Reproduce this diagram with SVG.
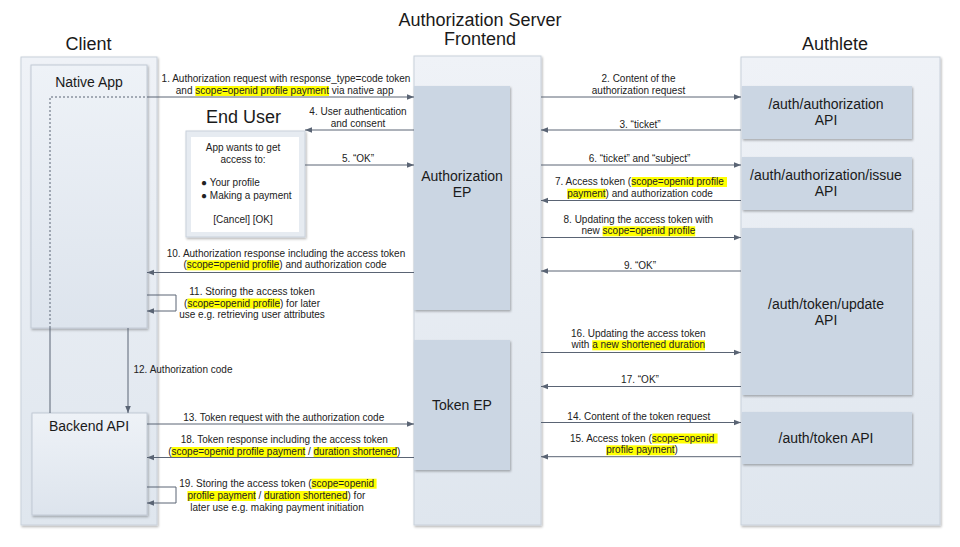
<svg xmlns="http://www.w3.org/2000/svg" width="960" height="547" viewBox="0 0 960 547">
<style>
  .title{font-family:"Liberation Sans",Arial,sans-serif;font-size:18px;fill:#1a1a1a;text-anchor:middle}
  .box{font-family:"Liberation Sans",Arial,sans-serif;font-size:14px;fill:#1a1a1a;text-anchor:middle}
  .lbl{font-family:"Liberation Sans",Arial,sans-serif;font-size:10px;fill:#222}
  .c{text-anchor:middle}
  .s{text-anchor:start}
  .col{fill:url(#gcol);stroke:#c9d1db;stroke-width:1}
  .sub{fill:url(#gsub);stroke:#c2cad5;stroke-width:1}
  .api{fill:#cbd6e3;stroke:none}
  .hl{fill:#ffff00}
  .ln{fill:none;stroke:#5a6474;stroke-width:1}
  .arr{marker-end:url(#ah)}
  .dash{stroke-dasharray:2,2}
</style>
<defs>
  <linearGradient id="gcol" x1="0" y1="0" x2="0" y2="1">
    <stop offset="0" stop-color="#eff2f7"/>
    <stop offset="1" stop-color="#dfe6ee"/>
  </linearGradient>
  <linearGradient id="gsub" x1="0" y1="0" x2="0" y2="1">
    <stop offset="0" stop-color="#eef2f7"/>
    <stop offset="1" stop-color="#dde4ed"/>
  </linearGradient>
  <filter id="sh" x="-10%" y="-10%" width="130%" height="130%">
    <feDropShadow dx="1" dy="1.5" stdDeviation="1" flood-color="#000" flood-opacity="0.3"/>
  </filter>
  <marker id="ah" viewBox="0 0 10 10" refX="10" refY="5" markerWidth="7" markerHeight="7" markerUnits="userSpaceOnUse" orient="auto">
    <path d="M0,1 L10,5 L0,9 z" fill="#5a6474"/>
  </marker>
</defs>
<rect width="960" height="547" fill="#ffffff"/>

<!-- Titles -->
<text class="title" x="88.5" y="50">Client</text>
<text class="title" x="480" y="26">Authorization Server</text>
<text class="title" x="480" y="45">Frontend</text>
<text class="title" x="835" y="50">Authlete</text>

<!-- Client column -->
<g id="client">
  <rect class="col" x="21" y="57" width="136" height="468" filter="url(#sh)"/>
</g>
<g id="native-app">
  <rect class="sub" x="31" y="65" width="116" height="263" filter="url(#sh)"/>
  <text class="box" x="89" y="87">Native App</text>
</g>
<g id="backend-api">
  <rect class="sub" x="32" y="413" width="115" height="102" filter="url(#sh)"/>
  <text class="box" x="89" y="431">Backend API</text>
</g>

<!-- End User -->
<g id="end-user">
  <text class="title" x="243.5" y="122.5">End User</text>
  <rect x="186" y="131" width="119" height="106" fill="#e6ebf1" stroke="#c9d1db" filter="url(#sh)"/>
  <rect x="191" y="137" width="108" height="95" fill="#ffffff"/>
  <text class="lbl c" x="243" y="151">App wants to get</text>
  <text class="lbl c" x="243" y="163.3">access to:</text>
  <text class="lbl s" x="201" y="185.5">● Your profile</text>
  <text class="lbl s" x="201" y="199">● Making a payment</text>
  <text class="lbl c" x="243" y="222.5">[Cancel] [OK]</text>
</g>

<!-- AS Frontend -->
<g id="as-frontend">
  <rect class="col" x="414" y="56" width="127" height="469" filter="url(#sh)"/>
</g>
<g id="authorization-ep">
  <rect class="api" x="414" y="86" width="96" height="224" filter="url(#sh)"/>
  <text class="box" x="462" y="181">Authorization</text>
  <text class="box" x="462" y="197">EP</text>
</g>
<g id="token-ep">
  <rect class="api" x="414" y="340" width="96" height="130" filter="url(#sh)"/>
  <text class="box" x="462" y="410">Token EP</text>
</g>

<!-- Authlete -->
<g id="authlete">
  <rect class="col" x="741" y="57" width="199" height="468" filter="url(#sh)"/>
</g>
<g id="auth-authorization">
  <rect class="api" x="742" y="86" width="170" height="53" filter="url(#sh)"/>
  <text class="box" x="826" y="108.5">/auth/authorization</text>
  <text class="box" x="826" y="124.5">API</text>
</g>
<g id="auth-authorization-issue">
  <rect class="api" x="742" y="157" width="170" height="53" filter="url(#sh)"/>
  <text class="box" x="826" y="179.5">/auth/authorization/issue</text>
  <text class="box" x="826" y="196">API</text>
</g>
<g id="auth-token-update">
  <rect class="api" x="742" y="228" width="170" height="167" filter="url(#sh)"/>
  <text class="box" x="826" y="308.5">/auth/token/update</text>
  <text class="box" x="826" y="324.5">API</text>
</g>
<g id="auth-token">
  <rect class="api" x="742" y="412" width="170" height="52" filter="url(#sh)"/>
  <text class="box" x="826" y="442.5">/auth/token API</text>
</g>

<!-- Connectors -->
<g id="connectors">
  <path class="ln dash" d="M50,328 V97 H147"/>
  <path class="ln arr" d="M147,97 H414"/>
  <path class="ln" d="M50,328 V413"/>
  <path class="ln arr" d="M541,97 H741"/>
  <path class="ln arr" d="M741,130 H541"/>
  <path class="ln arr" d="M414,130 H305"/>
  <path class="ln arr" d="M305,165 H414"/>
  <path class="ln arr" d="M541,165 H741"/>
  <path class="ln arr" d="M741,200.5 H541"/>
  <path class="ln arr" d="M541,237.5 H741"/>
  <path class="ln arr" d="M741,271 H541"/>
  <path class="ln arr" d="M414,272.5 H147"/>
  <path class="ln arr" d="M147,295 H176 V311 H147"/>
  <path class="ln arr" d="M128,328 V413"/>
  <path class="ln arr" d="M147,424 H414"/>
  <path class="ln arr" d="M541,422.5 H741"/>
  <path class="ln arr" d="M741,456.7 H541"/>
  <path class="ln arr" d="M541,352.5 H741"/>
  <path class="ln arr" d="M741,386.5 H541"/>
  <path class="ln arr" d="M414,457.5 H147"/>
  <path class="ln arr" d="M147,487 H176 V503 H147"/>
</g>

<!-- Connector labels -->
<g id="labels">
  <!-- 1 -->
  <text class="lbl c" x="286" y="82">1. Authorization request with response_type=code token</text>
  <rect class="hl" x="195.3" y="86" width="133.7" height="10"/>
  <text class="lbl s" x="175.8" y="94">and scope=openid profile payment via native app</text>
  <!-- 2 -->
  <text class="lbl c" x="638.5" y="82">2. Content of the</text>
  <text class="lbl c" x="638.5" y="93.5">authorization request</text>
  <!-- 3 -->
  <text class="lbl c" x="640" y="127.5">3. “ticket”</text>
  <!-- 4 -->
  <text class="lbl c" x="358" y="115">4. User authentication</text>
  <text class="lbl c" x="358" y="127">and consent</text>
  <!-- 5 -->
  <text class="lbl c" x="358" y="161.5">5. “OK”</text>
  <!-- 6 -->
  <text class="lbl c" x="639.5" y="161.5">6. “ticket” and “subject”</text>
  <!-- 7 -->
  <rect class="hl" x="631.7" y="177" width="95.3" height="10"/>
  <text class="lbl s" x="555" y="185">7. Access token (scope=openid profile</text>
  <rect class="hl" x="567.2" y="188.7" width="38.4" height="10"/>
  <text class="lbl s" x="567.2" y="196.7">payment) and authorization code</text>
  <!-- 8 -->
  <text class="lbl c" x="638.3" y="222.5">8. Updating the access token with</text>
  <rect class="hl" x="602.6" y="226.3" width="92.6" height="10"/>
  <text class="lbl s" x="581.5" y="234.3">new scope=openid profile</text>
  <!-- 9 -->
  <text class="lbl c" x="640" y="268.5">9. “OK”</text>
  <!-- 10 -->
  <text class="lbl c" x="286" y="256.5">10. Authorization response including the access token</text>
  <rect class="hl" x="186.7" y="260.3" width="92.6" height="10"/>
  <text class="lbl s" x="183.4" y="268.3">(scope=openid profile) and authorization code</text>
  <!-- 11 -->
  <text class="lbl c" x="252" y="295">11. Storing the access token</text>
  <rect class="hl" x="187.4" y="298.5" width="92.6" height="10"/>
  <text class="lbl s" x="184.1" y="306.5">(scope=openid profile) for later</text>
  <text class="lbl c" x="252" y="318">use e.g. retrieving user attributes</text>
  <!-- 12 -->
  <text class="lbl s" x="133.5" y="373">12. Authorization code</text>
  <!-- 13 -->
  <text class="lbl c" x="283.7" y="420.5">13. Token request with the authorization code</text>
  <!-- 14 -->
  <text class="lbl c" x="638.8" y="420">14. Content of the token request</text>
  <!-- 15 -->
  <rect class="hl" x="652.3" y="433.5" width="65.3" height="10"/>
  <text class="lbl s" x="570" y="441.5">15. Access token (scope=openid</text>
  <rect class="hl" x="606.2" y="445.3" width="68.4" height="10"/>
  <text class="lbl s" x="606.2" y="453.3">profile payment)</text>
  <!-- 16 -->
  <text class="lbl c" x="638.3" y="336.7">16. Updating the access token</text>
  <rect class="hl" x="592.2" y="340.3" width="112.8" height="10"/>
  <text class="lbl s" x="571.6" y="348.3">with a new shortened duration</text>
  <!-- 17 -->
  <text class="lbl c" x="640" y="383">17. “OK”</text>
  <!-- 18 -->
  <text class="lbl c" x="284.3" y="443.3">18. Token response including the access token</text>
  <rect class="hl" x="171.5" y="447" width="133.7" height="10"/>
  <rect class="hl" x="313.6" y="447" width="83.4" height="10"/>
  <text class="lbl s" x="168.2" y="455">(scope=openid profile payment / duration shortened)</text>
  <!-- 19 -->
  <rect class="hl" x="311.6" y="478.7" width="65" height="10"/>
  <text class="lbl s" x="179.3" y="486.7">19. Storing the access token (scope=openid</text>
  <rect class="hl" x="187.4" y="491" width="68.4" height="10"/>
  <rect class="hl" x="264.1" y="491" width="83.4" height="10"/>
  <text class="lbl s" x="187.4" y="499">profile payment / duration shortened) for</text>
  <text class="lbl c" x="277" y="510.5">later use e.g. making payment initiation</text>
</g>
</svg>
